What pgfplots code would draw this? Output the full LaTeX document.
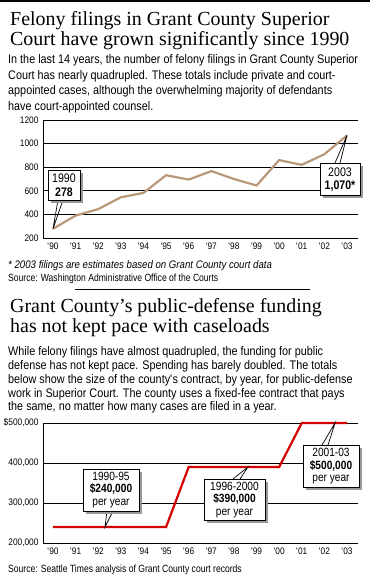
\documentclass[border=0pt]{standalone}
\usepackage{pgfplots}
\pgfplotsset{compat=1.18}
\usepackage{fontspec}
\setmainfont{Liberation Sans}
\newfontfamily\titlefont{Liberation Serif}
\newfontfamily\bodyfont[FakeStretch=0.87]{Liberation Sans}
\newfontfamily\notefont[FakeStretch=0.88]{Liberation Sans}
\newfontfamily\srcfont[FakeStretch=0.82]{Liberation Sans}
\newfontfamily\tickfont[FakeStretch=0.88]{Liberation Sans}
\newfontfamily\boxfont[FakeStretch=0.85]{Liberation Sans}
\definecolor{tanline}{RGB}{185,152,122}
\definecolor{fred}{RGB}{210,0,0}
\newcommand\T[3]{\node[anchor=base west,inner sep=0pt] at (#1bp,-#2bp) {#3};}
\newcommand\B[3]{\node[anchor=base,inner sep=0pt] at (#1bp,-#2bp) {#3};}
\newcommand\callout[4]{%
  \fill[black!40] ($(#1bp,-#2bp)+(3bp,-3bp)$) rectangle ($(#3bp,-#4bp)+(3bp,-3bp)$);
  \filldraw[fill=white,draw=black,line width=0.9bp] (#1bp,-#2bp) rectangle (#3bp,-#4bp);}
\usetikzlibrary{calc}
\pgfplotsset{
  mystyle/.style={
    scale only axis, anchor=north west,
    width=315bp,
    xmin=-0.442, xmax=13.486,
    axis x line*=bottom, axis y line*=left,
    axis line style={line width=0.9bp,-},
    major tick length=0pt,
    ymajorgrids, grid style={black,line width=0.9bp},
    scaled y ticks=false,
    xtick={0,...,13},
    xticklabels={\textquotesingle90,\textquotesingle91,\textquotesingle92,\textquotesingle93,\textquotesingle94,\textquotesingle95,\textquotesingle96,\textquotesingle97,\textquotesingle98,\textquotesingle99,\textquotesingle00,\textquotesingle01,\textquotesingle02,\textquotesingle03},
    ticklabel style={font=\tickfont\fontsize{9.5}{10}\selectfont},
    xticklabel style={yshift=-1bp},
    yticklabel style={xshift=-1bp},
    clip=false,
  }
}
\begin{document}
\begin{tikzpicture}
\useasboundingbox (0,0) rectangle (370bp,-576bp);
\fill (0,0) rectangle (370bp,-2.3bp);
% Title 1
\begin{scope}[font=\titlefont\fontsize{20}{20}\selectfont]
\T{10}{25.5}{Felony filings in Grant County Superior}
\T{10}{45.5}{Court have grown significantly since 1990}
\end{scope}
\begin{scope}[font=\bodyfont\fontsize{12.5}{12.5}\selectfont]
\T{8}{63.5}{In the last 14 years, the number of felony filings in Grant County Superior}
\T{8}{79}{Court has nearly quadrupled. These totals include private and court-}
\T{8}{94.5}{appointed cases, although the overwhelming majority of defendants}
\T{8}{110}{have court-appointed counsel.}
\end{scope}
% chart 1
\begin{axis}[mystyle, at={(43bp,-120bp)}, height=118bp,
  ymin=200, ymax=1200, ytick={200,400,600,800,1000,1200},
  yticklabels={200,400,600,800,1000,1200}]
\addplot[tanline, line width=2.2bp] coordinates {
 (0,278) (1,390) (2,445) (3,545) (4,582) (5,732) (6,695)
 (7,767) (8,700) (9,645) (10,860) (11,820) (12,910) (13,1070)};
\coordinate (p90) at (axis cs:0,278);
\coordinate (p03) at (axis cs:13,1070);
\end{axis}
\draw[line width=0.7bp] (58bp,-200bp) -- (p90) -- (63bp,-200bp);
\callout{48}{170}{80}{200}
\begin{scope}[font=\boxfont\fontsize{12.5}{13}\selectfont]
\B{64}{182.5}{1990}
\B{64}{196}{\bfseries 278}
\end{scope}
\draw[line width=0.7bp] (335bp,-163bp) -- (p03) -- (340bp,-163bp);
\callout{320}{163}{360}{195}
\begin{scope}[font=\boxfont\fontsize{12.5}{13}\selectfont]
\B{340}{176.5}{2003}
\B{340}{189}{\bfseries 1,070*}
\end{scope}
\begin{scope}[font=\notefont\itshape\fontsize{11}{11}\selectfont]
\T{8}{268}{* 2003 filings are estimates based on Grant County court data}
\end{scope}
\begin{scope}[font=\srcfont\fontsize{10.5}{11}\selectfont]
\T{8}{281}{Source: Washington Administrative Office of the Courts}
\end{scope}
\draw[line width=0.9bp] (75bp,-289bp) -- (310bp,-289bp);
% Title 2
\begin{scope}[font=\titlefont\fontsize{20}{20}\selectfont]
\T{10}{312.5}{Grant County\textquoteright s public-defense funding}
\T{10}{332.5}{has not kept pace with caseloads}
\end{scope}
\begin{scope}[font=\bodyfont\fontsize{12.5}{12.5}\selectfont]
\T{8}{355}{While felony filings have almost quadrupled, the funding for public}
\T{8}{369}{defense has not kept pace. Spending has barely doubled. The totals}
\T{8}{383}{below show the size of the county\textquotesingle s contract, by year, for public-defense}
\T{8}{397}{work in Superior Court. The county uses a fixed-fee contract that pays}
\T{8}{410.5}{the same, no matter how many cases are filed in a year.}
\end{scope}
% chart 2
\begin{axis}[mystyle, at={(43bp,-423bp)}, height=120bp,
  ymin=200000, ymax=500000, ytick={200000,300000,400000,500000},
  yticklabels={{200,000},{300,000},{400,000},{\$500,000}}]
\addplot[fred, line width=2.2bp] coordinates {
 (0,240000) (1,240000) (2,240000) (3,240000) (4,240000) (5,240000)
 (6,390000) (7,390000) (8,390000) (9,390000) (10,390000)
 (11,500000) (12,500000) (13,500000)};
\coordinate (q1) at (axis cs:2.3,240000);
\coordinate (q2) at (axis cs:8.62,390000);
\coordinate (q3) at (axis cs:12.47,500000);
\end{axis}
\draw[line width=0.7bp] (107bp,-511bp) -- (q1) -- (113bp,-511bp);
\callout{83}{469}{139}{511}
\begin{scope}[font=\boxfont\fontsize{12}{13}\selectfont]
\B{111}{480}{1990-95}
\B{111}{492.5}{\bfseries\$240,000}
\B{111}{505}{per year}
\end{scope}
\draw[line width=0.7bp] (233bp,-479bp) -- (q2) -- (240bp,-479bp);
\callout{204}{479}{265}{520}
\begin{scope}[font=\boxfont\fontsize{12}{13}\selectfont]
\B{234.5}{490}{1996-2000}
\B{234.5}{502.5}{\bfseries\$390,000}
\B{234.5}{515}{per year}
\end{scope}
\draw[line width=0.7bp] (322bp,-445bp) -- (q3) -- (328bp,-445bp);
\callout{303}{445}{359}{487}
\begin{scope}[font=\boxfont\fontsize{12}{13}\selectfont]
\B{331}{456.5}{2001-03}
\B{331}{469}{\bfseries\$500,000}
\B{331}{481.5}{per year}
\end{scope}
\begin{scope}[font=\srcfont\fontsize{10.5}{11}\selectfont]
\T{8}{572}{Source: Seattle Times analysis of Grant County court records}
\end{scope}
\end{tikzpicture}
\end{document}
